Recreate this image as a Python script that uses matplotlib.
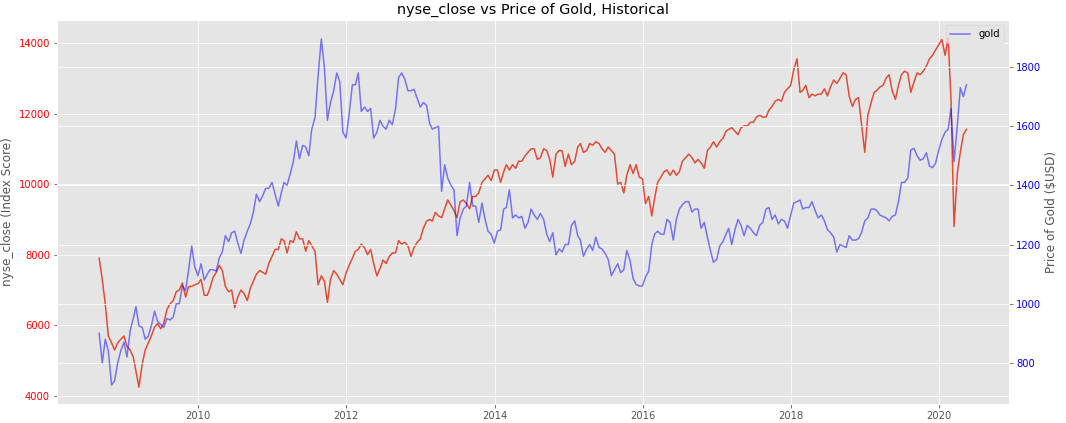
import matplotlib
matplotlib.use("Agg")
import matplotlib.pyplot as plt
import pandas as pd

plt.style.use("ggplot")

# semi-monthly observations (15th and month end), 2008-08-31 .. 2020-05-15
nyse_close = [
    # 2008 (Aug-end .. Dec)
    7900, 7300, 6600, 5700, 5500, 5300, 5500, 5600, 5700,
    # 2009
    5400, 5300, 5100, 4700, 4250, 4900, 5300, 5500, 5700, 5950, 6050, 5900,
    6050, 6450, 6600, 6700, 6950, 7000, 7200, 6800, 7100, 7100, 7150, 7180,
    # 2010
    7300, 6850, 6850, 7050, 7350, 7500, 7700, 7550, 7100, 6950, 7000, 6500,
    6800, 7000, 6900, 6700, 7050, 7250, 7450, 7550, 7500, 7450, 7750, 7950,
    # 2011
    8150, 8150, 8450, 8400, 8050, 8400, 8350, 8650, 8450, 8450, 8100, 8400,
    8250, 8100, 7150, 7400, 7250, 6650, 7300, 7550, 7450, 7300, 7150, 7480,
    # 2012
    7700, 7900, 8100, 8150, 8300, 8200, 8000, 8150, 7750, 7400, 7600, 7850,
    7750, 7950, 8050, 8050, 8400, 8300, 8350, 8250, 7950, 8200, 8350, 8450,
    # 2013
    8750, 8950, 9000, 8950, 9200, 9100, 9050, 9300, 9550, 9400, 9250, 9050,
    9500, 9550, 9450, 9300, 9650, 9650, 9750, 10050, 10150, 10250, 10100, 10400,
    # 2014
    10400, 10050, 10350, 10550, 10400, 10550, 10450, 10650, 10650, 10800, 10900, 11000,
    11000, 10700, 10750, 11000, 10950, 10700, 10200, 10850, 10950, 10950, 10500, 10850,
    # 2015
    10550, 10650, 11050, 11150, 10900, 10950, 11150, 11100, 11200, 11150, 11000, 10900,
    11050, 10950, 10850, 10000, 10050, 9750, 10250, 10550, 10300, 10550, 10200, 10150,
    # 2016
    9450, 9650, 9100, 9600, 10050, 10200, 10350, 10400, 10250, 10400, 10250, 10350,
    10650, 10750, 10850, 10750, 10600, 10700, 10600, 10450, 10950, 11050, 11200, 11050,
    # 2017
    11200, 11300, 11500, 11550, 11600, 11500, 11400, 11600, 11650, 11650, 11750, 11750,
    11900, 11950, 11900, 11900, 12100, 12200, 12350, 12400, 12350, 12600, 12700, 12800,
    # 2018
    13250, 13550, 12600, 12650, 12800, 12450, 12550, 12500, 12550, 12550, 12700, 12500,
    12750, 12950, 12850, 13000, 13150, 13100, 12500, 12200, 12400, 12450, 11700, 10900,
    # 2019
    11950, 12300, 12600, 12650, 12750, 12800, 13000, 13100, 12650, 12400, 12800, 13100,
    13200, 13150, 12600, 12900, 13150, 13100, 13200, 13350, 13550, 13650, 13800, 13950,
    # 2020 (Jan .. May 15)
    14100, 13650, 14150, 12400, 8800, 10300, 10900, 11400, 11550,
]

gold = [
    # 2008 (Aug-end .. Dec)
    900, 800, 880, 840, 725, 740, 800, 840, 870,
    # 2009
    820, 910, 950, 990, 925, 920, 880, 890, 925, 975, 940, 930,
    920, 950, 945, 955, 1000, 1000, 1060, 1045, 1115, 1195, 1125, 1095,
    # 2010
    1135, 1080, 1100, 1115, 1115, 1110, 1155, 1175, 1230, 1210, 1240, 1245,
    1205, 1170, 1215, 1245, 1270, 1310, 1370, 1345, 1365, 1390, 1390, 1410,
    # 2011
    1370, 1330, 1375, 1410, 1400, 1440, 1480, 1550, 1490, 1535, 1530, 1500,
    1590, 1630, 1770, 1895, 1800, 1620, 1680, 1720, 1780, 1750, 1580, 1560,
    # 2012
    1640, 1740, 1740, 1780, 1650, 1665, 1650, 1660, 1560, 1580, 1620, 1600,
    1590, 1620, 1605, 1660, 1765, 1780, 1760, 1720, 1720, 1725, 1695, 1665,
    # 2013
    1680, 1670, 1610, 1590, 1595, 1600, 1380, 1470, 1425, 1400, 1385, 1230,
    1290, 1320, 1330, 1410, 1330, 1330, 1275, 1340, 1285, 1245, 1235, 1205,
    # 2014
    1245, 1250, 1320, 1325, 1385, 1290, 1300, 1290, 1295, 1255, 1275, 1320,
    1300, 1285, 1305, 1285, 1235, 1210, 1240, 1165, 1185, 1175, 1200, 1200,
    # 2015
    1265, 1280, 1230, 1215, 1160, 1185, 1200, 1180, 1225, 1190, 1185, 1170,
    1150, 1095, 1115, 1135, 1105, 1115, 1180, 1145, 1085, 1065, 1060, 1060,
    # 2016
    1090, 1110, 1200, 1235, 1245, 1235, 1235, 1285, 1275, 1215, 1285, 1320,
    1335, 1345, 1345, 1310, 1320, 1320, 1255, 1275, 1225, 1180, 1140, 1150,
    # 2017
    1195, 1210, 1235, 1255, 1200, 1250, 1285, 1265, 1230, 1265, 1255, 1240,
    1230, 1265, 1275, 1320, 1325, 1285, 1300, 1270, 1285, 1280, 1255, 1300,
    # 2018
    1340, 1345, 1350, 1320, 1325, 1325, 1345, 1315, 1290, 1300, 1280, 1250,
    1240, 1225, 1175, 1200, 1195, 1190, 1230, 1215, 1215, 1220, 1240, 1280,
    # 2019
    1290, 1320, 1320, 1315, 1300, 1295, 1290, 1280, 1295, 1300, 1345, 1410,
    1410, 1425, 1520, 1525, 1500, 1485, 1490, 1510, 1465, 1460, 1475, 1520,
    # 2020 (Jan .. May 15)
    1555, 1580, 1590, 1660, 1480, 1600, 1730, 1700, 1740,
]

# observation dates: 15th and last day of each month
dates = []
for yr in range(2008, 2021):
    for mo in range(1, 13):
        dates.append(pd.Timestamp(yr, mo, 15))
        dates.append(pd.Timestamp(yr, mo, 1) + pd.offsets.MonthEnd(0))
dates = [d for d in dates if pd.Timestamp("2008-08-31") <= d <= pd.Timestamp("2020-05-15")]
n = min(len(dates), len(nyse_close), len(gold))
dates = dates[:n]

fig = plt.figure(figsize=(1066 / 72, 423 / 72), dpi=72)
ax = fig.add_axes([57 / 1066, 1 - 404 / 423, (1009 - 57) / 1066, (404 - 20) / 423])
ax.plot(dates, nyse_close[:n], color="#E24A33", linewidth=1.5, label="nyse_close")
ax.set_ylabel("nyse_close (Index Score)")
ax.tick_params(axis="y", labelcolor="red")
ax.set_ylim(3770, 14650)

ax2 = ax.twinx()
ax2.plot(dates, gold[:n], color="blue", alpha=0.5, linewidth=1.5, label="gold")
ax2.set_ylabel("Price of Gold ($USD)")
ax2.tick_params(axis="y", labelcolor="blue")
ax2.set_ylim(661, 1959)
ax2.legend(loc="upper right")

ax.set_xlim(pd.Timestamp("2008-02-05"), pd.Timestamp("2020-12-11"))
ax.set_title("nyse_close vs Price of Gold, Historical", fontsize=14.4)

fig.savefig("out.png", dpi=72)
